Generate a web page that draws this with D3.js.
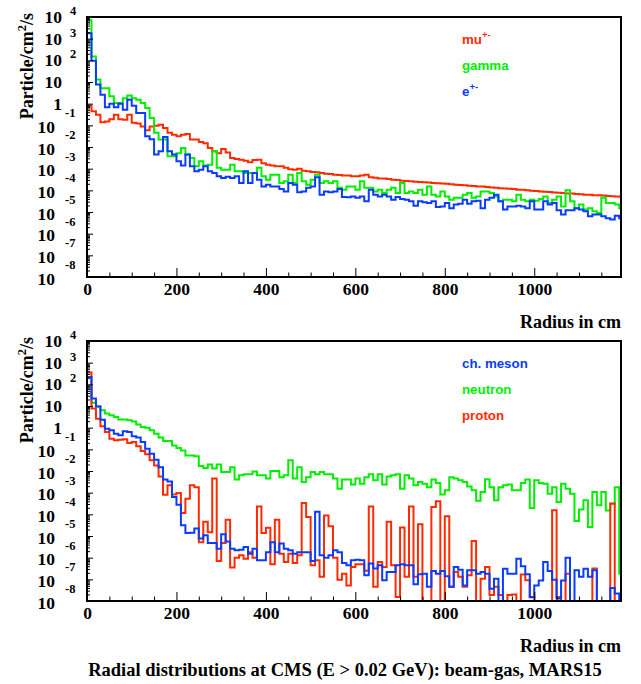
<!DOCTYPE html>
<html><head><meta charset="utf-8">
<script src="https://cdn.jsdelivr.net/npm/d3@7"></script>
<style>body{margin:0;background:#fff}</style>
</head><body>
<svg id="c" width="641" height="684"></svg>
<script>
// ---------------- DATA ----------------
const binWidth = 10;                       // cm per histogram bin
const radiusEdges = d3.range(0, 1200, binWidth); // lower edge of each bin (cm)
const xTickLabels = [0, 200, 400, 600, 800, 1000];
const yExponents = [4, 3, 2, 1, 0, -1, -2, -3, -4, -5, -6, -7, -8];
const xAxisTitle = "Radius in cm";
const yAxisTitle = ["Particle/cm", "2", "/s"];
const chartTitle = "Radial distributions at CMS (E > 0.02 GeV): beam-gas, MARS15";

// top panel
const muTop = [0.81,0.45,0.31,0.14,0.15,0.19,0.31,0.19,0.18,0.31,
 0.13,0.12,0.089,0.059,0.089,0.095,0.107,0.076,0.045,0.037,
 0.031,0.037,0.040,0.022,0.022,0.017,0.015,0.0089,0.0063,0.0052,
 0.0081,0.0056,0.0031,0.0028,0.0026,0.0023,0.0020,0.0025,0.0026,0.0018,
 0.0015,0.0014,0.0013,0.0013,0.0011,9.5e-4,8.9e-4,1.0e-3,8.1e-4,7.6e-4,
 7.1e-4,6.8e-4,6.3e-4,5.9e-4,5.6e-4,5.2e-4,5.1e-4,4.8e-4,4.8e-4,4.5e-4,
 4.5e-4,4.8e-4,5.2e-4,4.0e-4,3.8e-4,3.5e-4,3.5e-4,3.3e-4,3.1e-4,3.0e-4,
 2.8e-4,2.7e-4,2.6e-4,2.5e-4,2.45e-4,2.35e-4,2.3e-4,2.2e-4,2.15e-4,2.05e-4,
 2.0e-4,1.9e-4,1.8e-4,1.78e-4,1.7e-4,1.62e-4,1.58e-4,1.5e-4,1.52e-4,1.41e-4,
 1.35e-4,1.32e-4,1.26e-4,1.2e-4,1.17e-4,1.15e-4,1.07e-4,1.05e-4,1.0e-4,9.5e-5,
 9.3e-5,8.9e-5,8.5e-5,8.3e-5,8.0e-5,7.8e-5,7.6e-5,7.2e-5,7.1e-5,6.8e-5,
 6.6e-5,6.3e-5,6.2e-5,6.0e-5,5.9e-5,5.75e-5,5.5e-5,5.4e-5,5.25e-5,5.1e-5];
const gammaTop = [7000,150,13,5.2,5.2,2.2,1.07,1.07,1.8,2.4,
 1.8,1.5,1.07,0.63,0.22,0.045,0.022,0.022,0.0037,0.0037,
 0.0052,0.0089,0.0045,0.0031,0.0013,0.0022,0.0014,0.0015,0.0063,0.0011,
 8.9e-4,8.9e-4,0.0015,7.6e-4,7.6e-4,6.3e-4,6.3e-4,6.3e-4,0.0011,4.5e-4,
 3.1e-4,5.2e-4,5.2e-4,2.2e-4,2.6e-4,5.2e-4,2.2e-4,6.3e-4,2.6e-4,1.8e-4,
 3.1e-4,5.2e-4,2.2e-4,2.6e-4,2.2e-4,2.6e-4,1.3e-4,1.07e-4,1.5e-4,1.5e-4,
 1.07e-4,2.6e-4,1.3e-4,1.3e-4,8.9e-5,1.07e-4,7.6e-5,1.07e-4,1.3e-4,7.6e-5,
 2.2e-4,7.6e-5,8.9e-5,7.6e-5,1.07e-4,6.3e-5,1.5e-4,6.3e-5,5.2e-5,8.9e-5,
 5.2e-5,3.7e-5,4.5e-5,4.5e-5,6.3e-5,7.6e-5,4.5e-5,5.2e-5,8.9e-5,8.9e-5,
 7.6e-5,5.2e-5,3.1e-5,3.7e-5,3.7e-5,3.1e-5,6.3e-5,3.7e-5,3.1e-5,3.7e-5,
 3.3e-5,4.0e-5,5.2e-5,2.6e-5,3.7e-5,5.2e-5,1.8e-5,1.0e-4,3.1e-5,1.5e-5,
 2.2e-5,1.3e-5,1.5e-5,1.07e-5,8.9e-6,4.5e-5,2.6e-5,2.6e-5,2.2e-5,1.5e-5];
const electronTop = [1800,95,7.6,2.6,0.68,1.0,0.68,1.0,0.52,1.5,
 0.81,0.37,0.37,0.031,0.023,0.0045,0.0063,0.029,0.0063,0.0045,
 0.0022,0.0014,0.0045,0.0013,7.6e-4,8.9e-4,0.0013,7.6e-4,6.3e-4,4.5e-4,
 3.7e-4,4.2e-4,3.7e-4,4.5e-4,2.2e-4,7.6e-4,2.2e-4,6.3e-4,3.1e-4,1.5e-4,
 1.8e-4,1.5e-4,1.5e-4,1.15e-4,8.9e-5,2.2e-4,1.8e-4,8.1e-5,8.9e-5,1.3e-4,
 1.5e-4,4.0e-4,6.3e-5,8.9e-5,8.1e-5,8.9e-5,1.15e-4,4.9e-5,4.8e-5,5.2e-5,
 4.5e-5,5.2e-5,3.1e-5,1.07e-4,6.3e-5,5.2e-5,6.3e-5,5.2e-5,3.7e-5,4.9e-5,
 4.0e-5,3.7e-5,3.1e-5,1.95e-5,3.1e-5,2.8e-5,2.6e-5,3.1e-5,1.7e-5,1.8e-5,
 2.6e-5,1.5e-5,2.2e-5,2.4e-5,3.7e-5,2.4e-5,3.1e-5,3.3e-5,1.5e-5,3.7e-5,
 4.5e-5,6.3e-5,3.1e-5,1.3e-5,1.8e-5,1.8e-5,1.95e-5,1.8e-5,1.5e-5,3.1e-5,
 1.3e-5,1.3e-5,3.1e-5,2.2e-5,2.6e-5,1.2e-5,7.6e-6,1.2e-5,1.2e-5,1.5e-5,
 1.3e-5,1.07e-5,6.3e-6,7.6e-6,7.6e-6,6.3e-6,5.2e-6,4.5e-6,6.8e-6,5.2e-6];

// bottom panel
const mesonBottom = [220,22,9.6,2.3,0.89,0.76,0.52,0.45,0.68,0.63,
 0.4,0.35,0.22,0.107,0.063,0.033,0.015,0.004,0.0033,6.3e-4,
 2.8e-4,3.1e-5,1.38e-5,1.4e-5,2.2e-5,7.6e-6,1.07e-5,4.8e-6,4.8e-6,2.6e-6,
 1.2e-5,5.6e-6,2.6e-6,2.2e-6,2.3e-6,3.1e-6,1.5e-6,2.6e-6,7.6e-7,7.6e-7,
 1.8e-6,5.2e-6,1.8e-6,4.5e-6,2.6e-6,2.2e-6,1.5e-6,1.8e-6,1.8e-6,1.8e-6,
 7.1e-7,1.3e-4,1.3e-6,1.0e-6,1.3e-6,2.2e-6,1.8e-6,5.6e-7,4.5e-7,7.6e-7,
 8.1e-7,7.6e-7,1.55e-7,5.4e-7,3.2e-7,4.5e-7,9.1e-8,2.2e-7,2.2e-7,4.5e-7,
 5.0e-7,4.5e-7,4.5e-7,5.9e-8,1.7e-7,1.8e-7,4.5e-8,2.4e-7,1.8e-7,2.4e-7,
 1.38e-7,4.5e-8,3.7e-7,2.8e-7,5.2e-8,2.6e-7,2.6e-7,1.8e-7,2.2e-7,1.8e-7,
 3.7e-8,1.07e-7,0,3.1e-7,1.8e-7,1.8e-7,8.9e-7,4.0e-7,1.7e-7,1.5e-8,
 5.2e-8,8.9e-8,6.3e-7,2.4e-7,9.5e-8,1.3e-8,8.9e-8,1.0e-6,0,2.6e-7,
 1.3e-7,3.1e-7,1.3e-7,2.6e-7,0,0,0,4.0e-8,2.2e-8,0];
const neutronBottom = [76,14,9.6,6.3,4.5,3.7,3.1,2.4,2.4,2.2,
 1.95,1.4,1.07,1.0,0.76,0.52,0.35,0.24,0.24,0.15,
 0.115,0.089,0.052,0.052,0.048,0.017,0.0138,0.020,0.0129,0.020,
 0.0089,0.0089,0.015,0.004,0.0063,0.0071,0.0071,0.0096,0.0063,0.0063,
 0.0045,0.010,0.010,0.0052,0.0063,0.031,0.0045,0.015,0.0031,0.0052,
 0.0089,0.0071,0.0089,0.0071,0.0071,0.0045,0.0015,0.004,0.004,0.0024,
 0.0045,0.0026,0.0052,0.0071,0.0037,0.0071,0.0024,0.0056,0.0063,0.0071,
 0.0015,0.0063,0.0045,0.0022,0.0031,0.0026,0.0018,0.004,0.0028,8.3e-4,
 0.0013,0.0052,0.0045,0.0037,0.0031,0.00195,0.0013,4.2e-4,0.00107,0.0042,
 0.0018,4.5e-4,0.0018,0.0022,0.0024,0.0013,0.0013,0.0028,0.004,1.95e-4,
 0.0037,0.0028,0.0026,8.9e-4,0.0018,3.7e-4,0.0026,0.0015,8.9e-4,4.9e-5,
 1.66e-4,4.5e-4,2.6e-5,0.00107,2.6e-4,0.00107,1.5e-4,3.1e-4,0.0018,1.8e-7];
const protonBottom = [350,7.6,2.6,1.15,0.63,0.31,0.26,0.28,0.29,0.195,
 0.22,0.138,0.083,0.059,0.031,0.018,0.0056,8.1e-4,0.0022,8.3e-4,
 9.6e-4,1.15e-4,5.2e-4,0.0022,0.0018,5.2e-6,4.5e-5,1.5e-5,0.0045,7.1e-7,
 4.8e-6,5.6e-5,3.5e-7,1.0e-6,1.3e-6,8.9e-7,1.8e-6,1.0e-6,2.3e-4,1.38e-5,
 2.4e-5,5.0e-7,5.6e-5,1.5e-6,6.3e-7,1.5e-6,5.6e-7,1.3e-6,3.3e-4,7.6e-5,
 4.5e-7,7.6e-7,1.3e-7,8.9e-5,2.8e-5,1.0e-6,9.5e-8,1.8e-7,5.2e-8,3.7e-7,
 5.0e-7,5.0e-7,2.5e-7,2.3e-4,4.5e-8,6.3e-7,3.7e-7,4.5e-5,4.5e-7,1.55e-8,
 2.5e-5,1.3e-7,2.3e-4,1.3e-7,3.5e-5,0,0,2.2e-4,4.0e-4,0,
 8.1e-5,4.5e-8,2.2e-7,1.3e-7,4.5e-8,1.55e-7,5.9e-6,0,1.07e-7,3.7e-7,
 1.9e-8,4.5e-8,1.9e-8,0,1.9e-8,2.0e-8,0,1.66e-7,9.1e-8,1.55e-8,
 0,0,0,0,1.55e-4,1.55e-8,0,1.8e-7,0,0,
 0,0,0,3.2e-7,0,0,0,3.2e-4,0,0];

// ---------------- DRAWING ----------------
const RED = "#ff2a00", GREEN = "#00ee00", BLUE = "#0a3cff";
const SERIF = "'Liberation Serif','Times New Roman',serif";
const SANS = "'Liberation Sans',Arial,Helvetica,sans-serif";

const svg = d3.select("#c");
const frameLeft = 87, frameRight = 621;
const x = d3.scaleLinear().domain([0, 1194]).range([frameLeft, frameRight]);

const panels = [
  { name: "top", y0: 17, y1: 277,
    series: [
      { label: "mu", sup: "+-", values: muTop, color: RED, start: null },
      { label: "gamma", sup: "", values: gammaTop, color: GREEN, start: null },
      { label: "e", sup: "+-", values: electronTop, color: BLUE, start: 0.8 }
    ],
    drawOrder: [0, 1, 2] },
  { name: "bottom", y0: 341, y1: 601,
    series: [
      { label: "ch. meson", sup: "", values: mesonBottom, color: BLUE, start: 1 },
      { label: "neutron", sup: "", values: neutronBottom, color: GREEN, start: null },
      { label: "proton", sup: "", values: protonBottom, color: RED, start: null }
    ],
    drawOrder: [1, 2, 0] }
];

panels.forEach(p => {
  const y = d3.scaleLog().domain([1e-8, 1e4]).range([p.y1, p.y0]).clamp(true);
  const clipId = "clip-" + p.name;
  svg.append("clipPath").attr("id", clipId).append("rect")
    .attr("x", frameLeft).attr("y", p.y0)
    .attr("width", frameRight - frameLeft).attr("height", p.y1 - p.y0);

  const line = d3.line()
    .x(d => x(d[0]))
    .y(d => y(Math.max(d[1], 1e-9)))
    .curve(d3.curveStepAfter);

  const gData = svg.append("g").attr("clip-path", `url(#${clipId})`);
  p.drawOrder.forEach(idx => {
    const s = p.series[idx];
    const pts = [];
    if (s.start != null) pts.push([0, s.start]);
    s.values.forEach((v, i) => pts.push([radiusEdges[i], v]));
    pts.push([radiusEdges[radiusEdges.length - 1] + binWidth, s.values[s.values.length - 1]]);
    gData.append("path").attr("d", line(pts))
      .attr("fill", "none").attr("stroke", s.color)
      .attr("stroke-width", 2).attr("stroke-linejoin", "miter");
  });

  // x axis ticks (inward)
  const minorX = d3.range(0, 1194, 50).filter(v => v % 200 !== 0);
  const gxMinor = svg.append("g").attr("transform", `translate(0,${p.y1})`)
    .call(d3.axisBottom(x).tickValues(minorX).tickSize(-4.5).tickFormat(""));
  gxMinor.select(".domain").remove();
  const gxMajor = svg.append("g").attr("transform", `translate(0,${p.y1})`)
    .call(d3.axisBottom(x).tickValues(xTickLabels).tickSize(-9).tickFormat(d3.format("d")));
  gxMajor.select(".domain").remove();
  gxMajor.selectAll("text").attr("y", 18).attr("dy", null)
    .attr("font-family", SERIF).attr("font-weight", "bold").attr("font-size", "17.5px").attr("fill", "#000");
  svg.selectAll(".tick line").attr("stroke", "#000");

  // y axis ticks (inward)
  const decadeValues = yExponents.map(e => Math.pow(10, e));
  const minorY = [];
  yExponents.slice(1).forEach(e => { for (let m = 2; m <= 9; m++) minorY.push(m * Math.pow(10, e)); });
  const gyMinor = svg.append("g").attr("transform", `translate(${frameLeft},0)`)
    .call(d3.axisLeft(y).tickValues(minorY).tickSize(-3).tickFormat(""));
  gyMinor.select(".domain").remove();
  const gyMajor = svg.append("g").attr("transform", `translate(${frameLeft},0)`)
    .call(d3.axisLeft(y).tickValues(decadeValues).tickSize(-6).tickFormat(""));
  gyMajor.select(".domain").remove();
  svg.selectAll(".tick line").attr("stroke", "#000").attr("stroke-width", 1);

  // y tick labels (ROOT style 10^n)
  const gl = svg.append("g").attr("font-family", SERIF).attr("font-weight", "bold").attr("fill", "#000");
  yExponents.forEach(e => {
    const ty = y(Math.pow(10, e));
    if (e === 0) {
      gl.append("text").attr("x", 62).attr("y", ty + 6).attr("text-anchor", "end").attr("font-size", "17.5px").text("1");
    } else if (e === 1) {
      gl.append("text").attr("x", 62).attr("y", ty + 6).attr("text-anchor", "end").attr("font-size", "17.5px").text("10");
    } else if (e > 1) {
      gl.append("text").attr("x", 62).attr("y", ty + 6).attr("text-anchor", "end").attr("font-size", "17.5px").text("10");
      gl.append("text").attr("x", 70).attr("y", ty - 2).attr("font-size", "12.5px").text(String(e));
    } else {
      gl.append("text").attr("x", 55).attr("y", ty + 7.5).attr("text-anchor", "end").attr("font-size", "17.5px").text("10");
      gl.append("text").attr("x", 65).attr("y", ty - 8).attr("font-size", "12.5px").text("-" + Math.abs(e));
    }
  });

  // frame
  svg.append("rect").attr("x", frameLeft).attr("y", p.y0)
    .attr("width", frameRight - frameLeft).attr("height", p.y1 - p.y0)
    .attr("fill", "none").attr("stroke", "#000").attr("stroke-width", 2);

  // axis titles
  svg.append("text").attr("x", frameRight).attr("y", p.y1 + 51).attr("text-anchor", "end")
    .attr("font-family", SERIF).attr("font-weight", "bold").attr("font-size", "18px").text(xAxisTitle);
  const yt = svg.append("text").attr("transform", `translate(33,${p.y0 - 4}) rotate(-90)`)
    .attr("text-anchor", "end").attr("font-family", SERIF).attr("font-weight", "bold").attr("font-size", "18px");
  yt.append("tspan").text(yAxisTitle[0]);
  yt.append("tspan").attr("dy", -7).attr("font-size", "12.5px").text(yAxisTitle[1]);
  yt.append("tspan").attr("dy", 7).text(yAxisTitle[2]);

  // legend
  const legendOffsets = [27, 52.5, 78.5];
  p.series.forEach((s, i) => {
    const t = svg.append("text").attr("x", 462).attr("y", p.y0 + legendOffsets[i])
      .attr("font-family", SANS).attr("font-weight", "bold").attr("font-size", "13.3px").attr("fill", s.color);
    t.append("tspan").text(s.label);
    if (s.sup) t.append("tspan").attr("dy", -6).attr("font-size", "9.5px").text(s.sup);
  });
});

svg.append("text").attr("x", 345).attr("y", 676).attr("text-anchor", "middle")
  .attr("font-family", SERIF).attr("font-weight", "bold").attr("font-size", "18.5px").text(chartTitle);
</script>
</body></html>
